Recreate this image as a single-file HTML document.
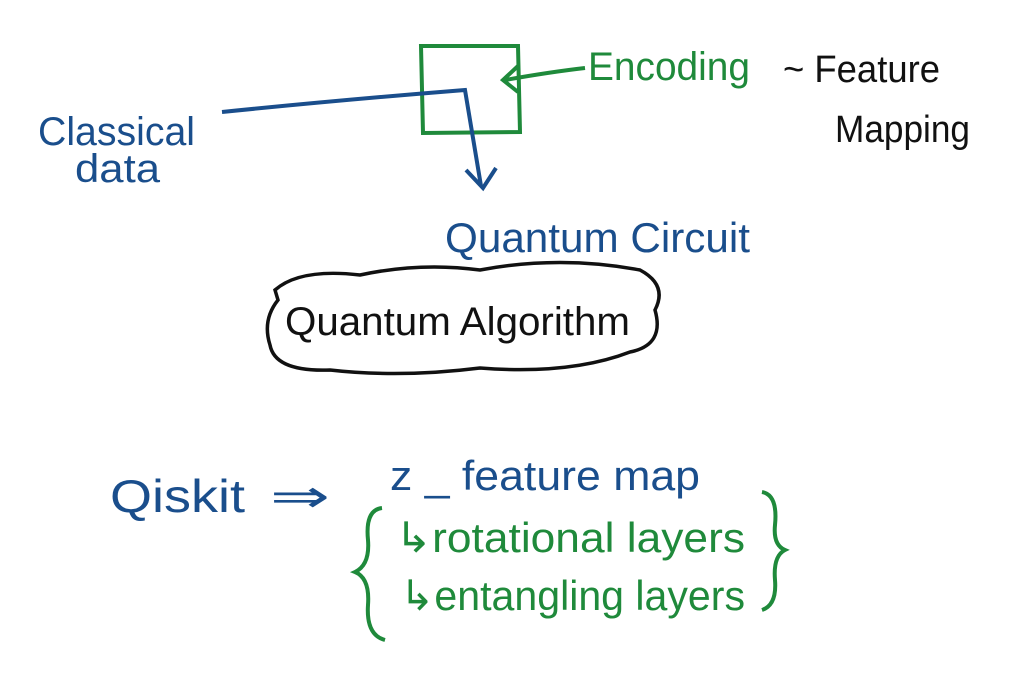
<!DOCTYPE html>
<html><head><meta charset="utf-8"><style>
html,body{margin:0;padding:0;background:#fff}
svg{display:block}
text{font-family:"Liberation Sans",sans-serif}
</style></head><body>
<svg width="1024" height="681" viewBox="0 0 1024 681" xmlns="http://www.w3.org/2000/svg">
<path d="M421 46 L518 46 L520 132 L423 133 Z" fill="none" stroke="#1f8a3b" stroke-width="4"/>
<path d="M585 68 Q550 72 505 80" fill="none" stroke="#1f8a3b" stroke-width="4"/>
<path d="M518 66 L503 80 L518 92" fill="none" stroke="#1f8a3b" stroke-width="4"/>
<text x="588" y="80" font-size="40" fill="#1f8a3b" textLength="162" lengthAdjust="spacingAndGlyphs">Encoding</text>
<text x="783" y="82" font-size="38" fill="#111" textLength="157" lengthAdjust="spacingAndGlyphs">~ Feature</text>
<text x="835" y="142" font-size="38" fill="#111" textLength="135" lengthAdjust="spacingAndGlyphs">Mapping</text>
<path d="M222 112 Q340 100 465 90 L481 186" fill="none" stroke="#1a4e8c" stroke-width="4"/>
<path d="M466 170 L483 188 L496 168" fill="none" stroke="#1a4e8c" stroke-width="4"/>
<text x="38" y="145" font-size="40" fill="#1a4e8c" textLength="157" lengthAdjust="spacingAndGlyphs">Classical</text>
<text x="75" y="182" font-size="40" fill="#1a4e8c" textLength="85" lengthAdjust="spacingAndGlyphs">data</text>
<text x="445" y="252" font-size="42" fill="#1a4e8c" textLength="305" lengthAdjust="spacingAndGlyphs">Quantum Circuit</text>
<path d="M275 290 Q300 268 360 275 Q420 262 480 270 Q560 255 640 270 Q668 285 655 310 Q665 345 630 352 Q570 375 480 368 Q400 378 330 370 Q275 372 270 345 Q262 320 278 300 Z" fill="none" stroke="#111" stroke-width="3.5"/>
<text x="285" y="335" font-size="40" fill="#111" textLength="345" lengthAdjust="spacingAndGlyphs">Quantum Algorithm</text>
<text x="110" y="512" font-size="46" fill="#1a4e8c" textLength="135" lengthAdjust="spacingAndGlyphs">Qiskit</text>
<text x="270" y="512" font-size="46" fill="#1a4e8c" textLength="60" lengthAdjust="spacingAndGlyphs">⇒</text>
<text x="390" y="490" font-size="42" fill="#1a4e8c" textLength="310" lengthAdjust="spacingAndGlyphs">z _ feature map</text>
<path d="M382 508 Q365 510 368 540 Q370 565 355 572 Q370 578 368 605 Q366 635 385 640" fill="none" stroke="#1f8a3b" stroke-width="4"/>
<path d="M762 492 Q778 495 775 525 Q773 545 785 550 Q773 556 775 580 Q777 605 762 610" fill="none" stroke="#1f8a3b" stroke-width="4"/>
<text x="395" y="552" font-size="42" fill="#1f8a3b" textLength="350" lengthAdjust="spacingAndGlyphs">↳rotational layers</text>
<text x="400" y="610" font-size="42" fill="#1f8a3b" textLength="345" lengthAdjust="spacingAndGlyphs">↳entangling layers</text>
</svg>
</body></html>
